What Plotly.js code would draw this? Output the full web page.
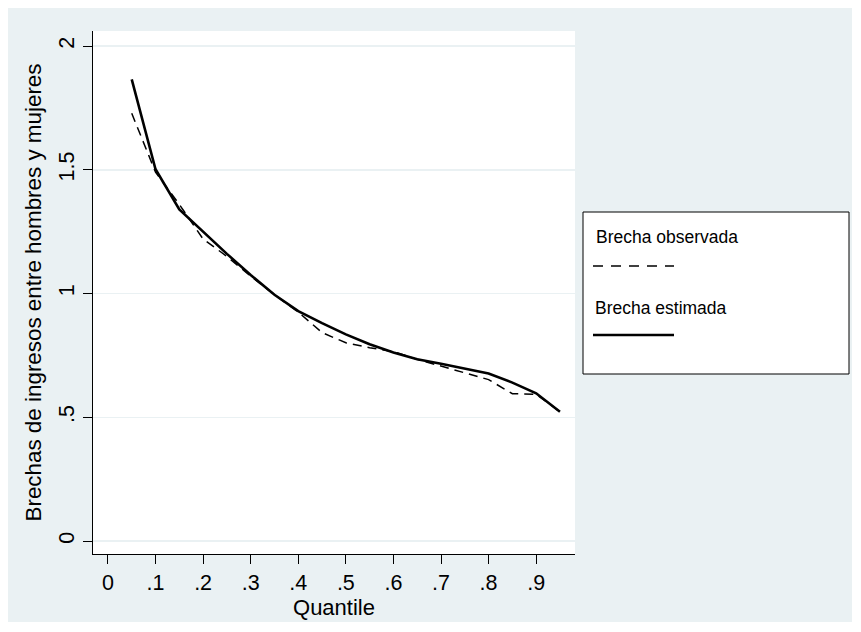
<!DOCTYPE html>
<html>
<head>
<meta charset="utf-8">
<script src="https://cdn.plot.ly/plotly-3.0.1.min.js"></script>
<style>html,body{margin:0;padding:0;background:#fff;}#chart{width:861px;height:632px;}</style>
</head>
<body>
<div id="chart"></div>
<script>
// Data
const quantiles = [0.05,0.10,0.15,0.20,0.25,0.30,0.35,0.40,0.45,0.50,0.55,0.60,0.65,0.70,0.75,0.80,0.85,0.90,0.95];
const brechaObservada = [1.728,1.490,1.360,1.220,1.150,1.070,0.995,0.925,0.842,0.801,0.781,0.765,0.734,0.707,0.682,0.652,0.595,0.593,0.522];
const brechaEstimada  = [1.865,1.502,1.340,1.248,1.160,1.075,0.995,0.929,0.880,0.835,0.795,0.762,0.734,0.716,0.698,0.677,0.640,0.597,0.522];
const xTickVals = [0,0.1,0.2,0.3,0.4,0.5,0.6,0.7,0.8,0.9];
const xTickText = ["0",".1",".2",".3",".4",".5",".6",".7",".8",".9"];
const yTickVals = [0,0.5,1,1.5,2];
const yTickText = ["0",".5","1","1.5","2"];
const seriesNames = ["Brecha observada","Brecha estimada"];

const FONT = "'Liberation Sans', Arial, Helvetica, sans-serif";
const BG = "#eaf1f3";

const traces = [
  {x: quantiles, y: brechaObservada, type: 'scatter', mode: 'lines', name: seriesNames[0],
   line: {color: '#000', width: 1.5, dash: '9px,6px'}, showlegend: false, hoverinfo: 'skip'},
  {x: quantiles, y: brechaEstimada, type: 'scatter', mode: 'lines', name: seriesNames[1],
   line: {color: '#000', width: 2.6}, showlegend: false, hoverinfo: 'skip'}
];

// pixel -> paper helpers for decoration (plot area spans x 93..575, y 31..554)
const L = 93, R = 575, T = 31, B = 554;
const px = v => (v - L) / (R - L);
const py = v => (B - v) / (B - T);

const layout = {
  width: 861, height: 632,
  margin: {l: L, r: 861 - R, t: T, b: 632 - B, pad: 0},
  paper_bgcolor: '#ffffff',
  plot_bgcolor: 'rgba(0,0,0,0)',
  font: {family: FONT, color: '#000', size: 17},
  showlegend: false,
  xaxis: {
    range: [-0.0314, 0.9816], tickmode: 'array', tickvals: xTickVals, ticktext: xTickText,
    showgrid: false, zeroline: false, showline: true, linecolor: '#000', linewidth: 1.3,
    ticks: 'outside', ticklen: 9, tickwidth: 1, tickcolor: '#000',
    tickfont: {family: FONT, size: 21.5, color: '#000'},
    title: {text: 'Quantile', font: {family: FONT, size: 22, color: '#000'}, standoff: 5}
  },
  yaxis: {
    range: [-0.0525, 2.0606], tickmode: 'array', tickvals: yTickVals, ticktext: yTickText,
    showgrid: true, gridcolor: BG, gridwidth: 1.5, zeroline: false,
    showline: true, linecolor: '#000', linewidth: 1.3,
    ticks: 'outside', ticklen: 9, tickwidth: 1, tickcolor: '#000', tickangle: -90,
    tickfont: {family: FONT, size: 21.5, color: '#000'},
    title: {text: 'Brechas de ingresos entre hombres y mujeres', font: {family: FONT, size: 22.4, color: '#000'}, standoff: 7}
  },
  shapes: [
    {type: 'rect', xref: 'paper', yref: 'paper', layer: 'below',
     x0: px(8), x1: px(852), y0: py(622), y1: py(8), fillcolor: BG, line: {width: 0}},
    {type: 'rect', xref: 'paper', yref: 'paper', layer: 'below',
     x0: 0, x1: 1, y0: 0, y1: 1, fillcolor: '#ffffff', line: {width: 0}},
    // legend box
    {type: 'rect', xref: 'paper', yref: 'paper', layer: 'above',
     x0: px(583), x1: px(849), y0: py(374), y1: py(212), fillcolor: '#ffffff', line: {color: '#000', width: 1}},
    {type: 'line', xref: 'paper', yref: 'paper', x0: px(593), x1: px(674), y0: py(266), y1: py(266),
     line: {color: '#000', width: 1.5, dash: '10px,8px'}},
    {type: 'line', xref: 'paper', yref: 'paper', x0: px(593), x1: px(674), y0: py(335), y1: py(335),
     line: {color: '#000', width: 2.6}}
  ],
  annotations: [
    {xref: 'paper', yref: 'paper', x: px(594), y: py(237), xanchor: 'left', yanchor: 'middle',
     text: seriesNames[0], showarrow: false, font: {family: FONT, size: 17.5, color: '#000'}},
    {xref: 'paper', yref: 'paper', x: px(593), y: py(308), xanchor: 'left', yanchor: 'middle',
     text: seriesNames[1], showarrow: false, font: {family: FONT, size: 17.5, color: '#000'}}
  ]
};

Plotly.newPlot('chart', traces, layout, {displayModeBar: false, staticPlot: true});
</script>
</body>
</html>
